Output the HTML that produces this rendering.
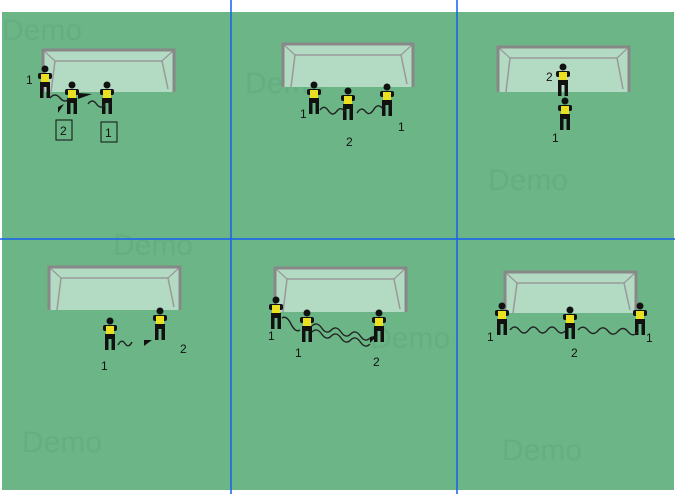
<!DOCTYPE html>
<html><head><meta charset="utf-8"><style>
html,body{margin:0;padding:0;background:#fff;width:675px;height:494px;overflow:hidden}
svg{display:block;font-family:"Liberation Sans",sans-serif}
</style></head><body>
<svg id="s" width="675" height="494" viewBox="0 0 675 494">
<rect x="2" y="12" width="672" height="478" fill="#6bb586"/>
<g id="wm" fill="#66ae81" font-size="30"></g>
<g id="g"></g>
<g id="p"></g>
<g id="lab" font-size="12" fill="#111"></g>
<line x1="231" y1="0" x2="231" y2="494" stroke="#1560f0" stroke-width="1.5"/>
<line x1="457" y1="0" x2="457" y2="494" stroke="#1560f0" stroke-width="1.5"/>
<line x1="0" y1="239" x2="675" y2="239" stroke="#1560f0" stroke-width="1.5"/>
</svg>
<script>
const NS="http://www.w3.org/2000/svg";
function mk(tag,attrs,parent){const e=document.createElementNS(NS,tag);for(const k in attrs)e.setAttribute(k,attrs[k]);parent.appendChild(e);return e;}
const wmPos=[[2,40],[245,93],[488,190],[113,255],[370,348],[22,452],[502,460]];
const wm=document.getElementById('wm');
wmPos.forEach(p=>{const t=mk('text',{x:p[0],y:p[1]},wm);t.textContent='Demo';

});
const goals=[[43,50,131,42],[283,44,130,43],[498,47,131,45],[49,267,131,43],[275,268,131,44],[505,272,131,41]];
const gg=document.getElementById('g');
goals.forEach(([x,y,w,h])=>{const g=mk('g',{},gg);


mk('rect',{x:x,y:y,width:w,height:h,fill:'#b3dac3'},g);
mk('polyline',{points:`${x+8},${y+h} ${x+12},${y+11} ${x+w-12},${y+11} ${x+w-6},${y+h-3}`,fill:'none',stroke:'#999','stroke-width':1.5},g);
mk('line',{x1:x,y1:y,x2:x+12,y2:y+11,stroke:'#999','stroke-width':1.2},g);
mk('line',{x1:x+w,y1:y,x2:x+w-12,y2:y+11,stroke:'#999','stroke-width':1.2},g);
mk('polyline',{points:`${x},${y+h} ${x},${y} ${x+w},${y} ${x+w},${y+h}`,fill:'none',stroke:'#888','stroke-width':3},g);});
const players=[[45,66],[72,82],[107,82],[314,82],[348,88],[387,84],[563,64],[565,98],[110,318],[160,308],[276,297],[307,310],[379,310],[502,303],[570,307],[640,303]];
const pp=document.getElementById('p');
players.forEach(([x,y])=>{const g=mk('g',{},pp);


mk('circle',{cx:x,cy:y+3,r:3.5,fill:'#111'},g);
mk('rect',{x:x-7,y:y+7,width:14,height:6,rx:2,fill:'#111'},g);
mk('rect',{x:x-4,y:y+8,width:8,height:9,fill:'#e8e020'},g);
mk('rect',{x:x-5,y:y+16,width:10,height:5,fill:'#111'},g);
mk('rect',{x:x-5,y:y+20,width:3.5,height:12,fill:'#111'},g);
mk('rect',{x:x+1.5,y:y+20,width:3.5,height:12,fill:'#111'},g);});
const waves=[[50,98,70,98],[88,104,105,104],[320,110,345,112],[357,113,382,108],[118,345,132,342],[282,318,300,330],[312,326,370,338],[312,332,370,344],[510,330,566,330],[578,330,638,332]];
waves.forEach(([x1,y1,x2,y2])=>{const n=Math.max(2,Math.round((x2-x1)/10));let d=`M${x1},${y1}`;
for(let i=1;i<=n;i++){const xa=x1+(x2-x1)*(i-0.5)/n,ya=y1+(y2-y1)*(i-0.5)/n+(i%2?-6:6);const xb=x1+(x2-x1)*i/n,yb=y1+(y2-y1)*i/n;d+=` Q${xa},${ya} ${xb},${yb}`;}
const e=mk('path',{d:d,fill:'none',stroke:'#222','stroke-width':1.4},pp);

});
const cones=[[78,96,92,94],[58,110,64,104],[144,343,152,340],[370,340,378,335]];
cones.forEach(([x1,y1,x2,y2])=>{const e=mk('polygon',{points:`${x1},${y1-3} ${x1},${y1+3} ${x2},${y2}`,fill:'#111'},pp);

});
const labels=[[26,84,'1'],[300,118,'1'],[346,146,'2'],[398,131,'1'],[546,81,'2'],[552,142,'1'],[101,370,'1'],[180,353,'2'],[268,340,'1'],[295,357,'1'],[373,366,'2'],[487,341,'1'],[571,357,'2'],[646,342,'1']];
const lab=document.getElementById('lab');
labels.forEach(([x,y,t])=>{const e=mk('text',{x:x,y:y},lab);e.textContent=t;

});
const boxes=[[56,120,'2'],[101,122,'1']];
boxes.forEach(([x,y,t])=>{mk('rect',{x:x,y:y,width:16,height:20,fill:'none',stroke:'#111','stroke-width':1},lab);
const e=mk('text',{x:x+4,y:y+15},lab);e.textContent=t;

});
</script>
</body></html>
